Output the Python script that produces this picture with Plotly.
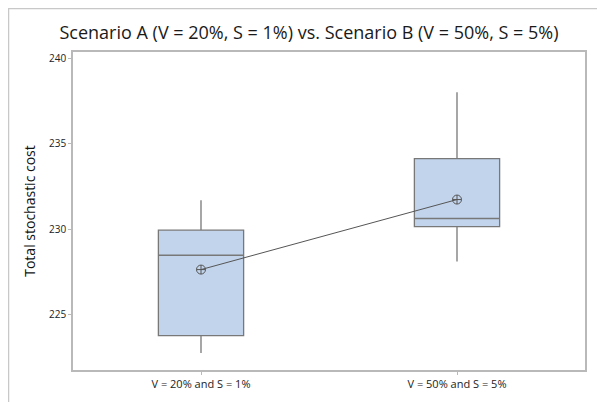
import plotly.graph_objects as go

categories = ["V = 20% and S = 1%", "V = 50% and S = 5%"]
q1 = [223.76, 230.14]
median = [228.47, 230.62]
q3 = [229.94, 234.13]
lower_whisker = [222.75, 228.10]
upper_whisker = [231.69, 238.02]
means = [227.63, 231.73]
y_ticks = [225, 230, 235, 240]

# page body has an 8px default margin, so the figure is sized/placed to compensate
W, H = 597, 394
L, T, R, B = 65, 44, 20, 32

fig = go.Figure()
fig.add_trace(go.Box(
    x=categories, q1=q1, median=median, q3=q3,
    lowerfence=lower_whisker, upperfence=upper_whisker,
    fillcolor="rgb(193,212,236)",
    line=dict(color="rgb(120,120,120)", width=1.3),
    whiskerwidth=0,
    width=0.333, boxpoints=False, hoverinfo="skip",
))
fig.add_trace(go.Scatter(
    x=categories, y=means, mode="lines+markers",
    line=dict(color="rgb(85,85,85)", width=1),
    marker=dict(symbol="circle-cross-open", size=9,
                color="rgb(85,85,85)", line=dict(width=1)),
))

font_family = "Open Sans, Noto Sans, sans-serif"
fig.update_layout(
    width=W, height=H,
    margin=dict(l=L, r=R, t=T, b=B),
    paper_bgcolor="white", plot_bgcolor="white",
    showlegend=False,
    font=dict(family=font_family, color="#222"),
    title=dict(text="Scenario A (V = 20%, S = 1%) vs. Scenario B (V = 50%, S = 5%)",
               x=301 / W, xanchor="center", y=1 - 25 / H, yanchor="middle",
               font=dict(size=18, color="#1a1a1a")),
    xaxis=dict(type="category", range=[-0.5, 1.5], showgrid=False,
               showline=True, linecolor="rgb(185,185,185)", linewidth=1.5, mirror=True,
               ticks="outside", ticklen=3, tickcolor="rgb(185,185,185)",
               tickfont=dict(size=11, color="#222")),
    yaxis=dict(range=[221.75, 240.37], tickvals=y_ticks, showgrid=False, zeroline=False,
               showline=True, linecolor="rgb(185,185,185)", linewidth=1.5, mirror=True,
               ticks="outside", ticklen=3, tickcolor="rgb(185,185,185)",
               tickfont=dict(size=10, color="#222"),
               title=dict(text="Total stochastic cost", font=dict(size=14, color="#111"),
                          standoff=10)),
)
# outer frame lines
pw, ph = W - L - R, H - T - B
fig.add_shape(type="line", xref="paper", yref="paper",
              x0=-L / pw, x1=(W - L) / pw, y0=1 + (T - 0.5) / ph, y1=1 + (T - 0.5) / ph,
              line=dict(color="rgb(200,200,200)", width=1.5))
fig.add_shape(type="line", xref="paper", yref="paper",
              x0=(-L + 0.5) / pw, x1=(-L + 0.5) / pw, y0=1 + T / ph, y1=-B / ph,
              line=dict(color="rgb(200,200,200)", width=1.5))

fig.write_html("out.html")
